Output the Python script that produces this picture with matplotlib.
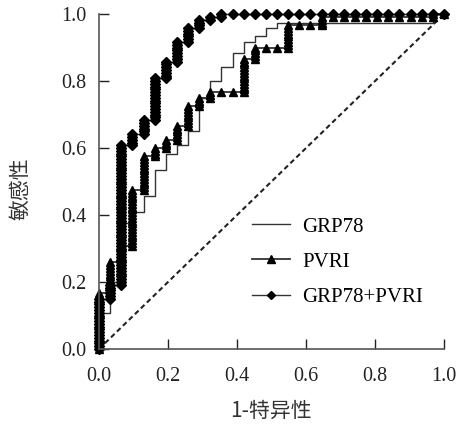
import numpy as np
import matplotlib
matplotlib.use("Agg")
import matplotlib.pyplot as plt

# Number of negative cases (x steps) and positive cases (y steps)
n_neg = 31
n_pos = 120

# Positive cases gained at each 1-specificity step (columns k = 0..31)
grp78_counts = [13, 11, 21, 4, 6, 9, 6, 3, 5, 12, 6, 5, 5, 4, 2, 3, 2,
                0, 0, 0, 0, 0, 0, 0, 0, 0, 0, 0, 0, 0, 3, 0]
pvri_counts = [20, 11, 6, 20, 12, 3, 3, 5, 7, 3, 2, 0, 0, 12, 4, 0, 0,
               8, 0, 0, 3, 0, 0, 0, 0, 0, 0, 0, 0, 0, 1, 0]
combo_counts = [18, 5, 50, 4, 5, 15, 6, 7, 5, 3, 1, 1,
                0, 0, 0, 0, 0, 0, 0, 0, 0, 0, 0, 0, 0, 0, 0, 0, 0, 0, 0, 0]

labels = ["GRP78", "PVRI", "GRP78+PVRI"]
x_ticks = [0.0, 0.2, 0.4, 0.6, 0.8, 1.0]
y_ticks = [0.0, 0.2, 0.4, 0.6, 0.8, 1.0]
x_label = "1-特异性"
y_label = "敏感性"


def roc_path(counts):
    xs, ys = [0.0], [0.0]
    tp = 0
    for k, c in enumerate(counts):
        fx = k / n_neg
        if k > 0:
            xs.append(fx)
            ys.append(tp / n_pos)
        for _ in range(c):
            tp += 1
            xs.append(fx)
            ys.append(tp / n_pos)
    return np.array(xs), np.array(ys)


plt.rcParams['font.family'] = ['Liberation Serif', 'Noto Sans CJK SC']
fig = plt.figure(figsize=(4.61, 4.29), dpi=100)
ax = fig.add_axes([0.2148, 0.1865, 0.7482, 0.7805])

ax.plot([0, 1], [0, 1], ls=(0, (2.4, 1.6)), color='#222222', lw=1.5, clip_on=False)

gx, gy = roc_path(grp78_counts)
ax.plot(gx, gy, color='#333333', lw=1.0, label=labels[0], clip_on=False)

px, py = roc_path(pvri_counts)
ax.plot(px, py, color='#333333', lw=1.3, marker='^', ms=6, mfc='black',
        mec='black', label=labels[1], clip_on=False)

cx, cy = roc_path(combo_counts)
ax.plot(cx, cy, color='#333333', lw=1.0, marker='D', ms=4.8, mfc='black',
        mec='black', label=labels[2], clip_on=False)

ax.set_xlim(0, 1)
ax.set_ylim(0, 1)
ax.set_xticks(x_ticks)
ax.set_yticks(y_ticks)
ax.set_xticklabels([f"{v:.1f}" for v in x_ticks])
ax.set_yticklabels([f"{v:.1f}" for v in y_ticks])
ax.tick_params(direction='in', length=7, width=1.0, labelsize=14.5,
               colors='#222222')
ax.tick_params(axis='x', pad=13)
ax.tick_params(axis='y', pad=9)
for s in ['top', 'right']:
    ax.spines[s].set_visible(False)
for s in ['left', 'bottom']:
    ax.spines[s].set_color('#555555')
    ax.spines[s].set_linewidth(1.2)

fig.text(0.045, 0.56, y_label, rotation=90, ha='center', va='center',
         fontsize=15, family=['Noto Sans CJK SC'], color='#333333')
fig.text(0.587, 0.043, x_label, ha='center', va='center',
         fontsize=15, family=['Noto Sans CJK SC', 'DejaVu Sans'], color='#333333')

leg = ax.legend(loc='center left', bbox_to_anchor=(0.443, 0.26), frameon=False,
                fontsize=15, handlelength=1.85, handletextpad=0.58,
                labelspacing=0.75, borderpad=0, borderaxespad=0,
                markerscale=0.85)

fig.savefig("out.png", dpi=100)
